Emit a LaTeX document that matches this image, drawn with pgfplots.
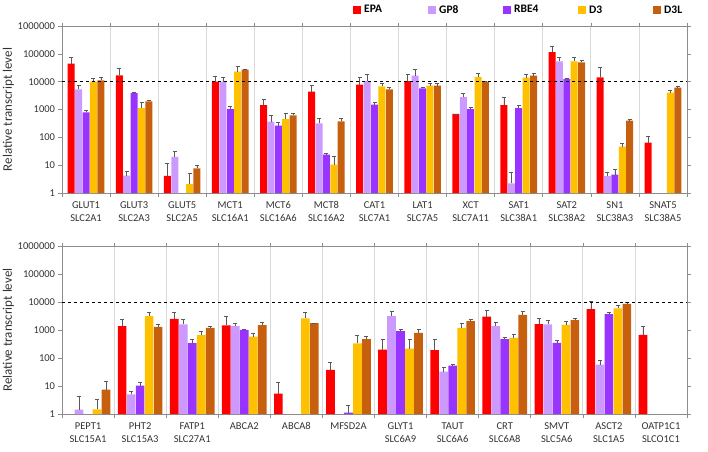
\documentclass[border=0pt]{standalone}
\usepackage{pgfplots}
\pgfplotsset{compat=1.18}
\usepackage{fontspec}
\setmainfont{Carlito}
\definecolor{cEPA}{HTML}{FF0000}
\definecolor{cGP8}{HTML}{CC99FF}
\definecolor{cRBE}{HTML}{9933FF}
\definecolor{cD3}{HTML}{FFC000}
\definecolor{cD3L}{HTML}{C65F0E}
\definecolor{cframe}{HTML}{8C8C8C}
\definecolor{errc}{HTML}{595959}

% top panel data: x  y  err+
\pgfplotstableread{
0 44400 30400
1 16900 12500
2 4.1 7.5
3 10000 5100
4 1450 930
5 4370 3030
6 7800 6100
7 10500 8300
8 690 10
9 1450 1210
10 116000 70000
11 14300 19300
12 64 48
}\tEPA
\pgfplotstableread{
0 5300 2100
1 4.2 2.0
2 19.7 10.8
3 10000 4300
4 365 255
5 318 147
6 10500 8300
7 16400 10600
8 2800 900
9 2.2 3.2
10 53700 19300
11 4.0 1.7
}\tGPE
\pgfplotstableread{
0 790 170
1 3900 100
3 1040 220
4 262 73
5 23.8 2.8
6 1490 370
7 5750 500
8 1040 130
9 1130 280
10 12500 700
11 4.6 2.3
}\tRBE
\pgfplotstableread{
0 10000 3200
1 1130 670
2 2.1 3.0
3 22900 12600
4 455 275
5 10.4 10.9
6 6800 1700
7 7200 1500
8 14700 4700
9 13900 4400
10 53700 19300
11 46 15
12 4030 870
}\tDthree
\pgfplotstableread{
0 11200 2700
1 1970 160
2 7.7 2.4
3 27000 1500
4 620 130
5 376 92
6 5300 800
7 7200 1300
8 10000 500
9 16400 3000
10 49500 11000
11 400 43
12 6100 800
}\tDthreeL

% bottom panel data
\pgfplotstableread{
1 1370 1010
2 2510 1860
3 1450 1580
4 5.3 8.7
5 37.6 33
6 200 284
7 190 280
8 3030 2110
9 1620 970
10 5600 4600
11 670 740
}\bEPA
\pgfplotstableread{
0 1.43 2.77
1 5.05 1.45
2 1580 800
3 1370 400
6 3140 1460
7 32.7 12.9
8 1370 550
9 1580 660
10 58.4 22.6
}\bGPE
\pgfplotstableread{
1 10.3 3.7
2 339 131
3 1020 20
5 1.12 0.88
6 910 190
7 53.8 7.8
8 470 101
9 348 85
10 3700 530
}\bRBE
\pgfplotstableread{
0 1.47 1.83
1 3140 1230
2 655 235
3 585 165
4 2600 1770
5 330 325
6 218 252
7 1200 500
8 526 204
9 1540 540
10 5900 1640
}\bDthree
\pgfplotstableread{
0 7.4 7.8
1 1300 240
2 1200 170
3 1490 360
4 1770 30
5 470 150
6 795 225
7 2080 430
8 3500 980
9 2240 350
10 8660 1310
}\bDthreeL

\begin{document}
\begin{tikzpicture}
\useasboundingbox (0pt,0pt) rectangle (708pt,451pt);

% ---------- top panel ----------
\begin{axis}[
  scale only axis, width=625pt, height=167pt,
  at={(62pt,258pt)}, anchor=south west,
  ymode=log, ymin=1, ymax=1000000,
  xmin=-0.5, xmax=12.5,
  axis line style={cframe},
  ytick={1,10,100,1000,10000,100000,1000000},
  yticklabels={1,10,100,1000,10000,100000,1000000},
  yminorticks=false,
  tick align=outside,
  major tick length=3.5pt,
  tick style={cframe, line width=0.6pt},
  xmajorgrids=true,
  major grid style={gray!30, line width=0.8pt},
  tick label style={font=\fontsize{10.5}{13}\selectfont, text=black!80},
  x tick label style={align=center, yshift=-5pt},
  ylabel={Relative transcript level},
  every axis y label/.style={at={(axis description cs:-0.0712,0.5)}, rotate=90, anchor=south, font=\fontsize{13}{15}\selectfont, text=black!80},
  ybar=0.4pt, bar width=7pt,
  xtick={-0.5,0.5,...,12.5}, xticklabels={},
  extra x ticks={0,1,...,12},
  extra x tick style={xmajorgrids=false, major tick length=0pt},
  extra x tick labels={GLUT1\\SLC2A1,GLUT3\\SLC2A3,GLUT5\\SLC2A5,MCT1\\SLC16A1,MCT6\\SLC16A6,MCT8\\SLC16A2,CAT1\\SLC7A1,LAT1\\SLC7A5,XCT\\SLC7A11,SAT1\\SLC38A1,SAT2\\SLC38A2,SN1\\SLC38A3,SNAT5\\SLC38A5},
  legend columns=5,
  legend image code/.code={\fill[#1] (0pt,-4pt) rectangle (8pt,4pt); \path (11pt,0pt);},
  legend style={draw=none, fill=none, at={(0.4656,1)}, anchor=west, yshift=16pt,
    inner sep=0pt, nodes={inner sep=0pt, anchor=west},
    font=\fontsize{11.5}{13}\selectfont\bfseries},
]
\addplot[fill=cEPA, draw=none, error bars/.cd, y dir=plus, y explicit, error bar style={draw=errc, line width=0.6pt}, error mark options={rotate=90, mark size=2pt, draw=errc, line width=0.6pt}] table[x index=0, y index=1, y error plus index=2]{\tEPA};
\addlegendentry{\makebox[64pt][l]{EPA}}
\addplot[fill=cGP8, draw=none, error bars/.cd, y dir=plus, y explicit, error bar style={draw=errc, line width=0.6pt}, error mark options={rotate=90, mark size=2pt, draw=errc, line width=0.6pt}] table[x index=0, y index=1, y error plus index=2]{\tGPE};
\addlegendentry{\makebox[64pt][l]{GP8}}
\addplot[fill=cRBE, draw=none, error bars/.cd, y dir=plus, y explicit, error bar style={draw=errc, line width=0.6pt}, error mark options={rotate=90, mark size=2pt, draw=errc, line width=0.6pt}] table[x index=0, y index=1, y error plus index=2]{\tRBE};
\addlegendentry{\makebox[64pt][l]{RBE4}}
\addplot[fill=cD3, draw=none, error bars/.cd, y dir=plus, y explicit, error bar style={draw=errc, line width=0.6pt}, error mark options={rotate=90, mark size=2pt, draw=errc, line width=0.6pt}] table[x index=0, y index=1, y error plus index=2]{\tDthree};
\addlegendentry{\makebox[64pt][l]{D3}}
\addplot[fill=cD3L, draw=none, error bars/.cd, y dir=plus, y explicit, error bar style={draw=errc, line width=0.6pt}, error mark options={rotate=90, mark size=2pt, draw=errc, line width=0.6pt}] table[x index=0, y index=1, y error plus index=2]{\tDthreeL};
\addlegendentry{D3L}
\draw[black, dashed, line width=0.7pt] (axis cs:-0.5,10000) -- (axis cs:12.5,10000);
\end{axis}

% ---------- bottom panel ----------
\begin{axis}[
  scale only axis, width=625pt, height=168pt,
  at={(62pt,37pt)}, anchor=south west,
  ymode=log, ymin=1, ymax=1000000,
  xmin=-0.5, xmax=11.5,
  axis line style={cframe},
  ytick={1,10,100,1000,10000,100000,1000000},
  yticklabels={1,10,100,1000,10000,100000,1000000},
  yminorticks=false,
  tick align=outside,
  major tick length=3.5pt,
  tick style={cframe, line width=0.6pt},
  xmajorgrids=true,
  major grid style={gray!30, line width=0.8pt},
  tick label style={font=\fontsize{10.5}{13}\selectfont, text=black!80},
  x tick label style={align=center, yshift=-5pt},
  ylabel={Relative transcript level},
  every axis y label/.style={at={(axis description cs:-0.0712,0.5)}, rotate=90, anchor=south, font=\fontsize{13}{15}\selectfont, text=black!80},
  ybar=0.4pt, bar width=8.6pt,
  xtick={-0.5,0.5,...,11.5}, xticklabels={},
  extra x ticks={0,1,...,11},
  extra x tick style={xmajorgrids=false, major tick length=0pt},
  extra x tick labels={PEPT1\\SLC15A1,PHT2\\SLC15A3,FATP1\\SLC27A1,ABCA2,ABCA8,MFSD2A,GLYT1\\SLC6A9,TAUT\\SLC6A6,CRT\\SLC6A8,SMVT\\SLC5A6,ASCT2\\SLC1A5,OATP1C1\\SLCO1C1},
]
\addplot[fill=cEPA, draw=none, error bars/.cd, y dir=plus, y explicit, error bar style={draw=errc, line width=0.6pt}, error mark options={rotate=90, mark size=2pt, draw=errc, line width=0.6pt}] table[x index=0, y index=1, y error plus index=2]{\bEPA};
\addplot[fill=cGP8, draw=none, error bars/.cd, y dir=plus, y explicit, error bar style={draw=errc, line width=0.6pt}, error mark options={rotate=90, mark size=2pt, draw=errc, line width=0.6pt}] table[x index=0, y index=1, y error plus index=2]{\bGPE};
\addplot[fill=cRBE, draw=none, error bars/.cd, y dir=plus, y explicit, error bar style={draw=errc, line width=0.6pt}, error mark options={rotate=90, mark size=2pt, draw=errc, line width=0.6pt}] table[x index=0, y index=1, y error plus index=2]{\bRBE};
\addplot[fill=cD3, draw=none, error bars/.cd, y dir=plus, y explicit, error bar style={draw=errc, line width=0.6pt}, error mark options={rotate=90, mark size=2pt, draw=errc, line width=0.6pt}] table[x index=0, y index=1, y error plus index=2]{\bDthree};
\addplot[fill=cD3L, draw=none, error bars/.cd, y dir=plus, y explicit, error bar style={draw=errc, line width=0.6pt}, error mark options={rotate=90, mark size=2pt, draw=errc, line width=0.6pt}] table[x index=0, y index=1, y error plus index=2]{\bDthreeL};
\draw[black, dashed, line width=0.7pt] (axis cs:-0.5,10000) -- (axis cs:11.5,10000);
\end{axis}
\end{tikzpicture}
\end{document}
